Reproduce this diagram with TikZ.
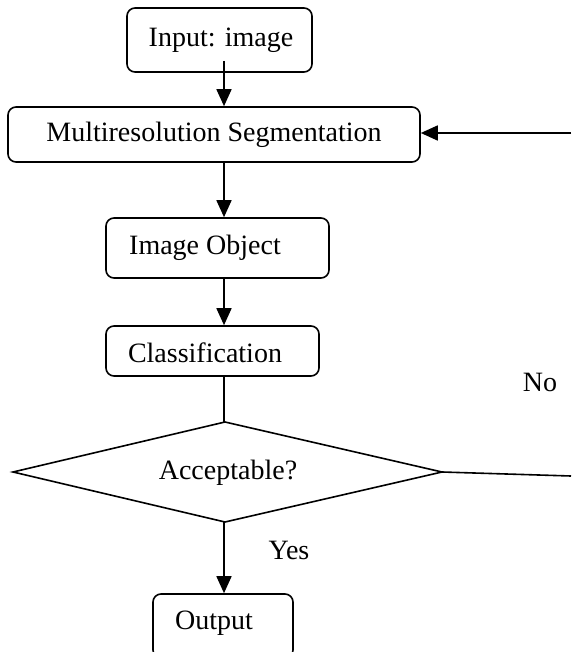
\documentclass[tikz,border=0pt]{standalone}
\usepackage{fontspec}
\setmainfont{Liberation Serif}
\usetikzlibrary{arrows.meta}
\begin{document}
\begin{tikzpicture}[x=1pt,y=-1pt,
  every node/.style={font=\fontsize{28}{32}\selectfont},
  stepbox/.style={draw,line width=1.6pt,rounded corners=8pt,inner sep=0pt},
  lbl/.style={inner sep=0pt,anchor=center},
  conn/.style={line width=1.6pt,-{Triangle[length=17pt,width=15pt]}},
  plain/.style={line width=1.6pt}]
\useasboundingbox (0,0) rectangle (571,652);
\clip (0,0) rectangle (571,652);
% boxes
\node[stepbox,minimum width=185pt,minimum height=64pt] (in) at (219.5,40) {};
\node[lbl] (intx) at (221,40) {Input: image};
\node[stepbox,minimum width=412pt,minimum height=55pt] (ms) at (214,134.5) {};
\node[lbl] (mstx) at (214,135) {Multiresolution Segmentation};
\node[stepbox,minimum width=223pt,minimum height=60pt] (io) at (217.5,248) {};
\node[lbl] (iotx) at (205,248) {Image Object};
\node[stepbox,minimum width=213pt,minimum height=50pt] (cl) at (212.5,351) {};
\node[lbl] (cltx) at (205,353) {Classification};
% decision diamond
\coordinate (accW) at (13,472);
\coordinate (accN) at (225,422);
\coordinate (accE) at (442,472);
\coordinate (accS) at (225,522);
\draw[line width=1.6pt,line join=miter] (accW) -- (accN) -- (accE) -- (accS) -- cycle;
\node[lbl] (acc) at (228,473) {Acceptable?};
\node[stepbox,minimum width=140pt,minimum height=64pt] (out) at (223,626) {};
\node[lbl] (outtx) at (214,623) {Output};
\node[lbl] (no) at (540,382) {No};
\node[lbl] (yes) at (289,550) {Yes};
\coordinate (rtop) at (571,133);
\coordinate (rbot) at (571,476);
% connectors
\draw[conn] ([yshift=12pt]in.south -| 224,0) -- (ms.north -| 224,0);
\draw[conn] (ms.south -| 224,0) -- (io.north -| 224,0);
\draw[conn] (io.south -| 224,0) -- (cl.north -| 224,0);
\draw[plain] (cl.south -| 224,0) -- (accN -| 224,0);
\draw[conn] (accS -| 224,0) -- (out.north -| 224,0);
\draw[plain] (accE) -- (rbot);
\draw[conn] (rtop) -- (rtop -| ms.east);
\end{tikzpicture}
\end{document}
